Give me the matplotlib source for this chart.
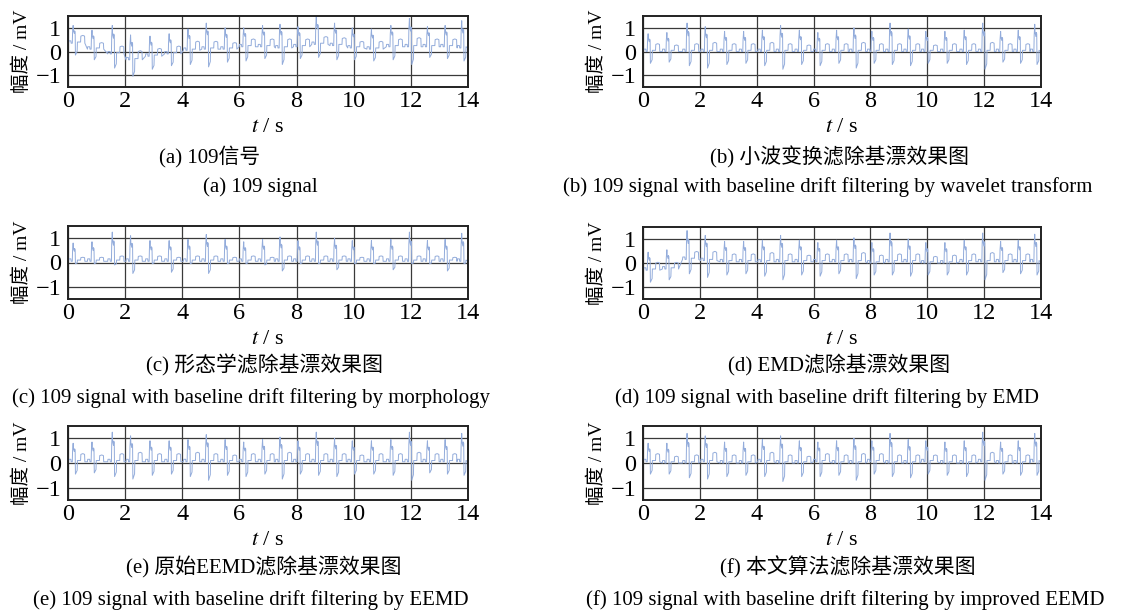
import numpy as np
import matplotlib
matplotlib.use('Agg')
from matplotlib import pyplot as plt

plt.rcParams['font.family'] = ['Liberation Serif', 'Noto Sans CJK SC']
plt.rcParams['mathtext.fontset'] = 'stix'

# beat (R peak) times in seconds and per-beat wave amplitudes (mV)
beat_t = [0.18, 0.84, 1.55, 2.19, 2.87, 3.54, 4.20, 4.84, 5.50, 6.15, 6.81,
          7.42, 8.05, 8.69, 9.33, 9.95, 10.62, 11.30, 11.95, 12.58, 13.20, 13.78]
r_amp = [0.75, 0.80, 1.20, 1.05, 0.85, 0.85, 0.90, 1.10, 0.90, 0.80, 0.90,
         1.00, 0.85, 1.20, 0.95, 0.85, 0.85, 0.90, 1.20, 0.85, 0.90, 1.15]
s_amp = [-0.50, -0.45, -0.60, -0.70, -0.55, -0.50, -0.60, -0.75, -0.55, -0.60, -0.50,
         -0.70, -0.50, -0.55, -0.60, -0.50, -0.50, -0.55, -0.75, -0.45, -0.50, -0.55]
t_amp = [0.30, 0.25, 0.30, 0.35, 0.30, 0.30, 0.35, 0.30, 0.25, 0.30, 0.30,
         0.35, 0.30, 0.30, 0.30, 0.25, 0.30, 0.30, 0.35, 0.30, 0.30, 0.30]

# morphology filter output keeps smaller S and T waves
s_morph = [-0.10, -0.10, -0.15, -0.50, -0.10, -0.45, -0.10, -0.50, -0.10, -0.10, -0.15,
           -0.40, -0.10, -0.10, -0.35, -0.10, -0.10, -0.35, -0.10, -0.10, -0.40, -0.10]
t_morph = [0.15, 0.15, 0.20, 0.20, 0.20, 0.15, 0.20, 0.20, 0.15, 0.20, 0.15,
           0.20, 0.20, 0.20, 0.20, 0.15, 0.20, 0.20, 0.20, 0.20, 0.15, 0.20]

# baseline level under each beat for every panel
base_a = [0.35, 0.10, -0.10, -0.35, -0.20, -0.10, 0.05, 0.10, 0.10, 0.20, 0.20,
          0.15, 0.20, 0.30, 0.25, 0.15, 0.10, 0.20, 0.20, 0.20, 0.20, 0.15]
base_b = [0.00, 0.00, 0.00, 0.00, 0.00, 0.00, 0.00, 0.00, 0.00, 0.00, 0.00,
          0.00, 0.00, 0.00, 0.00, 0.00, 0.00, 0.00, 0.00, 0.00, 0.00, 0.00]
base_c = [0.05, 0.05, 0.05, 0.05, 0.05, 0.05, 0.05, 0.05, 0.05, 0.05, 0.05,
          0.05, 0.05, 0.05, 0.05, 0.05, 0.05, 0.05, 0.05, 0.05, 0.05, 0.05]
base_d = [-0.30, -0.25, 0.15, 0.10, 0.05, 0.05, 0.05, 0.05, 0.05, 0.05, 0.05,
          0.05, 0.00, 0.05, 0.05, 0.00, 0.00, 0.05, 0.05, 0.05, 0.05, 0.05]
base_e = [0.05, 0.05, 0.05, 0.05, 0.05, 0.05, 0.05, 0.05, 0.05, 0.05, 0.05,
          0.05, 0.05, 0.05, 0.05, 0.05, 0.05, 0.05, 0.05, 0.05, 0.05, 0.05]
base_f = [0.05, 0.00, 0.00, 0.05, 0.00, 0.00, 0.05, 0.00, 0.00, 0.05, 0.00,
          0.00, 0.05, 0.00, 0.00, 0.05, 0.00, 0.00, 0.05, 0.00, 0.00, 0.05]

cap_cn = ['(a) 109信号', '(b) 小波变换滤除基漂效果图', '(c) 形态学滤除基漂效果图',
          '(d) EMD滤除基漂效果图', '(e) 原始EEMD滤除基漂效果图', '(f) 本文算法滤除基漂效果图']
cap_en = ['(a) 109 signal',
          '(b) 109 signal with baseline drift filtering by wavelet transform',
          '(c) 109 signal with baseline drift filtering by morphology',
          '(d) 109 signal with baseline drift filtering by EMD',
          '(e) 109 signal with baseline drift filtering by EEMD',
          '(f) 109 signal with baseline drift filtering by improved EEMD']


def ecg_trace(base, s_list, t_list):
    # piecewise beat shape: P wave, wide notched QRS, S dip, flat T wave
    xs, ys = [0.0], [base[0] + 0.3]
    for t0, r, s, tw, b in zip(beat_t, r_amp, s_list, t_list, base):
        pts = [(-0.16, 0.0), (-0.15, 0.10), (-0.08, 0.10), (-0.07, 0.0),
               (-0.03, 0.0), (-0.02, 0.6 * r), (0.0, r), (0.01, 0.7 * r),
               (0.04, 0.55 * r), (0.05, 0.7 * r), (0.07, 0.65 * r), (0.08, s),
               (0.14, 0.7 * s), (0.15, 0.05), (0.26, 0.05), (0.27, tw),
               (0.34, 1.1 * tw), (0.40, tw), (0.41, 0.0)]
        for dx, v in pts:
            if 0 <= t0 + dx <= 14:
                xs.append(t0 + dx)
                ys.append(b + v)
    xs.append(14.0)
    ys.append(base[-1])
    return xs, ys


traces = [ecg_trace(base_a, s_amp, t_amp), ecg_trace(base_b, s_amp, t_amp),
          ecg_trace(base_c, s_morph, t_morph), ecg_trace(base_d, s_amp, t_amp),
          ecg_trace(base_e, s_amp, t_amp), ecg_trace(base_f, s_amp, t_amp)]

W, H = 1122, 615
fig = plt.figure(figsize=(W / 100, H / 100), dpi=100)

# axes boxes in pixels: left, top, right, bottom
boxes = [(68, 16, 468, 87), (643, 16, 1041, 87),
         (68, 226, 468, 299), (643, 227, 1041, 299),
         (68, 426, 468, 500), (643, 426, 1041, 500)]
cap_x = [(210, 260), (839, 828), (265, 251), (839, 827), (264, 251), (848, 845)]
cap_y = [(157, 187), (157, 187), (365, 398), (365, 398), (567, 600), (567, 600)]

for i in range(6):
    l, t, r, b = boxes[i]
    ax = fig.add_axes([l / W, 1 - b / H, (r - l) / W, (b - t) / H])
    x, y = traces[i]
    ax.plot(x, y, color='#93acdb', lw=0.7)
    ax.set_xlim(0, 14)
    ax.set_ylim(-1.5, 1.5)
    ax.set_xticks(range(0, 15, 2))
    ax.set_yticks([-1, 0, 1])
    ax.set_yticklabels(['\u22121', '0', '1'])
    ax.grid(True, color='#3a3a3a', lw=0.9)
    ax.tick_params(length=0, labelsize=17.5)
    ax.tick_params(axis='y', pad=5)
    ax.tick_params(axis='x', pad=3)
    for sp in ax.spines.values():
        sp.set_linewidth(1.4)
        sp.set_color('#222222')
    ax.set_xlabel('$t$ / s', fontsize=16, labelpad=4)
    ax.set_ylabel('幅度 / mV', fontsize=14, labelpad=3)
    fig.text(cap_x[i][0] / W, 1 - cap_y[i][0] / H, cap_cn[i], fontsize=15,
             ha='center', va='center')
    fig.text(cap_x[i][1] / W, 1 - cap_y[i][1] / H, cap_en[i], fontsize=15,
             ha='center', va='center')

fig.savefig('out.png', dpi=100)
